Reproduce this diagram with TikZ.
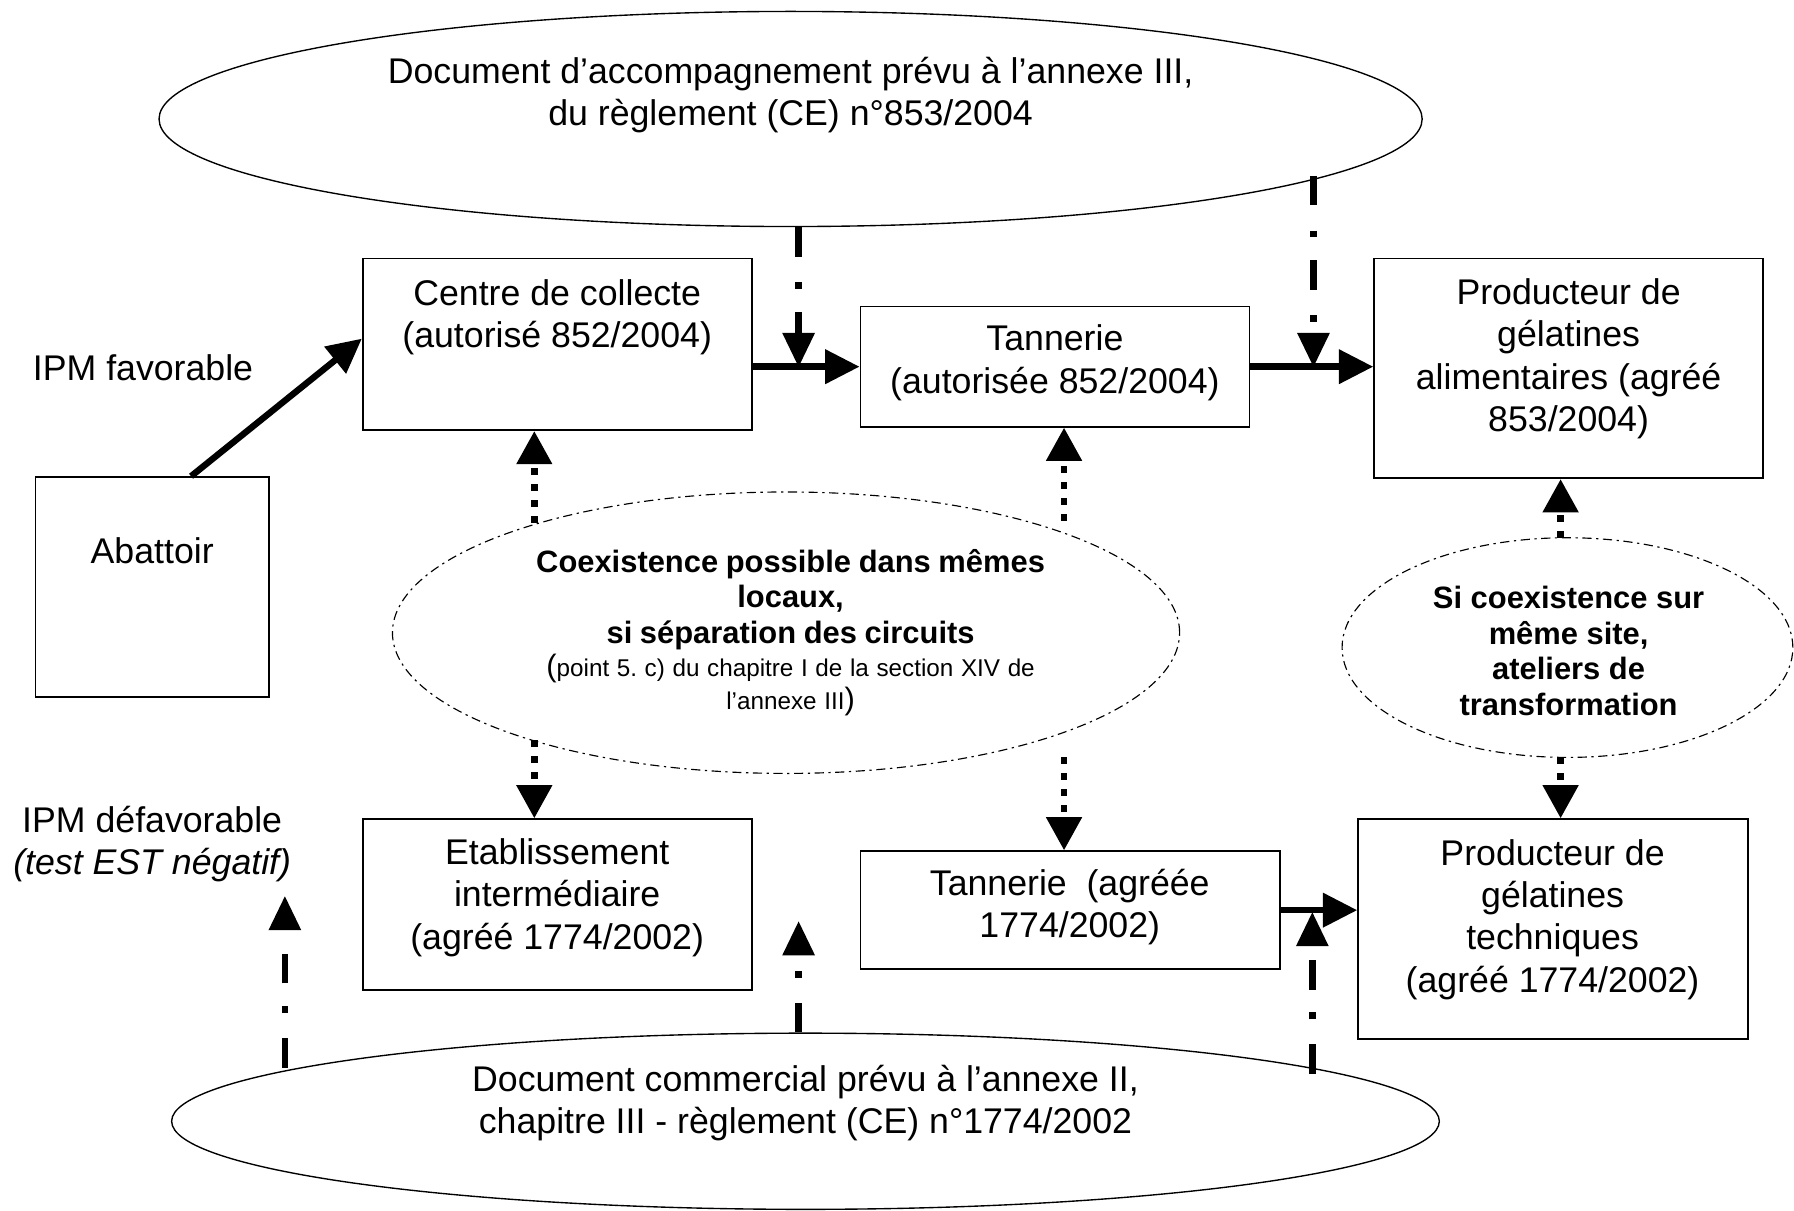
\documentclass[tikz,border=0pt]{standalone}
\usepackage{fontspec}
\setmainfont{Liberation Sans}
\usetikzlibrary{arrows.meta,shapes.geometric}
\begin{document}
\frenchspacing
\begin{tikzpicture}[x=0.5pt,y=-0.5pt,
 box/.style={draw,line width=0.75pt,rectangle,inner sep=0pt},
 bigell/.style={draw,ellipse,line width=0.6pt,inner sep=0pt},
 dotell/.style={draw,ellipse,line width=0.5pt,inner sep=0pt,dash pattern=on 4pt off 2pt on 1pt off 2pt},
 txt/.style={align=center,font=\fontsize{15.6}{18.5}\selectfont,inner sep=0pt},
 btxt/.style={align=center,font=\fontsize{13.5}{15.5}\selectfont\bfseries,inner sep=0pt},
 thickarrow/.style={line width=2.8pt,-{Triangle[length=15pt,width=14.5pt]}},
 dasharrow/.style={line width=2.8pt,dash pattern=on 13pt off 11pt on 3pt off 10pt,-{Triangle[length=15pt,width=13.5pt]}},
 dotarrow/.style={line width=3pt,dash pattern=on 3pt off 4pt,-{Triangle[length=14.5pt,width=15pt]}}]
\useasboundingbox (0,0) rectangle (1568,1058);

% ellipses
\node[bigell,minimum width=552pt,minimum height=94pt] (topell) at (691,104) {};
\node[bigell,minimum width=554pt,minimum height=77pt] (botell) at (704,980) {};
\node[dotell,minimum width=344pt,minimum height=123pt] (midell) at (687,553) {};
\node[dotell,minimum width=197pt,minimum height=96pt] (rell) at (1370,566) {};

% boxes
\node[box,minimum width=170pt,minimum height=75pt] (centre) at (487,301) {};
\node[box,minimum width=170pt,minimum height=52.5pt] (tannT) at (922,320.5) {};
\node[box,minimum width=170pt,minimum height=96pt] (prodA) at (1371,322) {};
\node[box,minimum width=102pt,minimum height=96pt] (abattoir) at (133,513) {};
\node[box,minimum width=170pt,minimum height=74.5pt] (etab) at (487,790.5) {};
\node[box,minimum width=183.5pt,minimum height=51.5pt] (tannB) at (935.5,795.5) {};
\node[box,minimum width=170.5pt,minimum height=96pt] (prodT) at (1357.5,812) {};

% texts
\node[txt] (ttop) at (691,83) {Document d’accompagnement prévu à l’annexe III,\\du règlement (CE) n°853/2004};
\node[txt] (tbot) at (704,964) {Document commercial prévu à l’annexe II,\\chapitre III - règlement (CE) n°1774/2002};
\node[txt] (tcentre) at (487,277.5) {Centre de collecte\\(autorisé 852/2004)};
\node[txt] (ttannT) at (922,317) {Tannerie\\(autorisée 852/2004)};
\node[txt] (tprodA) at (1371,313.5) {Producteur de\\gélatines\\alimentaires (agréé\\853/2004)};
\node[txt] (tab) at (133,481) {Abattoir};
\node[txt] (tipmf) at (125,321) {IPM favorable};
\node[txt] (tetab) at (487,784.5) {Etablissement\\intermédiaire\\(agréé 1774/2002)};
\node[txt] (ttannB) at (935,793) {Tannerie~ (agréée\\1774/2002)};
\node[txt] (tprodT) at (1357,803.5) {Producteur de\\gélatines\\techniques\\(agréé 1774/2002)};
\node[txt] (tipmd) at (133,738) {IPM défavorable\\\textit{(test EST négatif)}};
\node[text width=260pt,align=center,inner sep=0pt] (tmid) at (691,553)
 {\fontsize{13.5}{15.5}\selectfont\bfseries Coexistence possible dans mêmes\\locaux,\\si séparation des circuits\par
  \fontsize{10.6}{14.5}\selectfont\mdseries{\fontsize{13.5}{14.5}\selectfont(}point 5. c) du chapitre I de la section XIV de\\l’annexe III{\fontsize{13.5}{14.5}\selectfont)}\par};
\node[btxt] (trell) at (1371,569) {Si coexistence sur\\même site,\\ateliers de\\transformation};

% junctions / free ends
\coordinate (j1) at (698,321);
\coordinate (j2) at (1148,321);
\coordinate (j3) at (1147,797);
\coordinate (ar1) at (249,783);
\coordinate (ar2) at (698,805);
\coordinate (m1) at (467,457);
\coordinate (m2) at (930,455);
\coordinate (m3) at (467,647);
\coordinate (m4) at (930,662);
\coordinate (r1) at (1364,470);
\coordinate (r2) at (1364,662);

% solid arrows
\draw[thickarrow] ([xshift=17pt]abattoir.north) -- ([yshift=2.5pt]centre.west);
\draw[thickarrow] (centre.east |- tannT.west) -- (tannT.west);
\draw[thickarrow] (tannT.east) -- (tannT.east -| prodA.west);
\draw[thickarrow] (tannB.east) -- (tannB.east -| prodT.west);

% dash-dot arrows
\draw[dasharrow] (j1 |- topell.south) -- (j1);
\draw[dasharrow] (j2 |- topell.-6.6) -- (j2);
\draw[dasharrow] (ar1 |- botell.174.5) -- (ar1);
\draw[dasharrow] (ar2 |- botell.north) -- (ar2);
\draw[dasharrow] (j3 |- botell.5.9) -- (j3);

% dotted arrows
\draw[dotarrow] (m1) -- (m1 |- centre.south);
\draw[dotarrow] (m2) -- (m2 |- tannT.south);
\draw[dotarrow] (m3) -- (m3 |- etab.north);
\draw[dotarrow] (m4) -- (m4 |- tannB.north);
\draw[dotarrow] (r1) -- (r1 |- prodA.south);
\draw[dotarrow] (r2) -- (r2 |- prodT.north);
\end{tikzpicture}
\end{document}
